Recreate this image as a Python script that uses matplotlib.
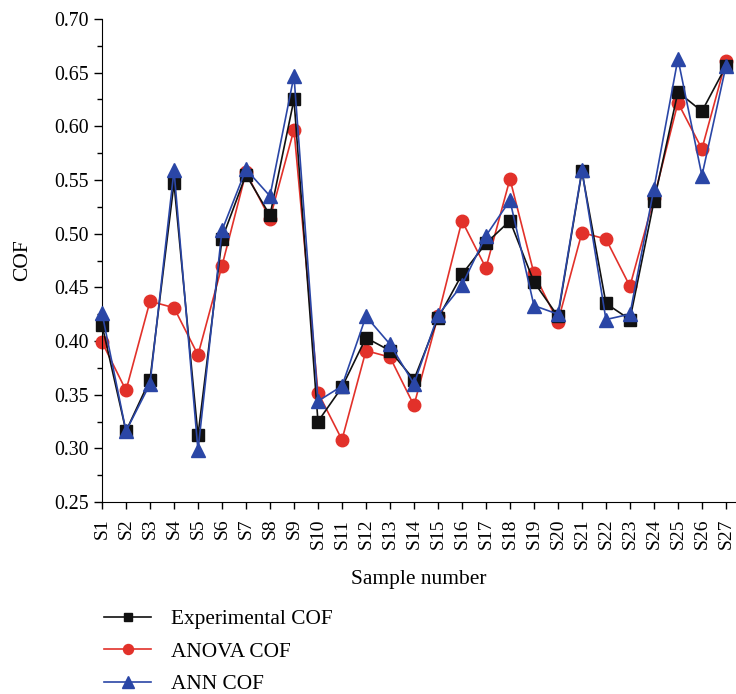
import numpy as np
import matplotlib.pyplot as plt
from matplotlib.ticker import MultipleLocator

plt.rcParams['font.family'] = ['Liberation Serif', 'DejaVu Serif']

# sample labels
samples = [f"S{i}" for i in range(1, 28)]

# COF values
exp_cof = [0.415, 0.316, 0.364, 0.547, 0.312, 0.495, 0.555, 0.517, 0.625,
           0.325, 0.357, 0.403, 0.391, 0.364, 0.421, 0.462, 0.491, 0.512,
           0.455, 0.423, 0.558, 0.435, 0.420, 0.530, 0.632, 0.614, 0.656]
anova_cof = [0.399, 0.354, 0.437, 0.431, 0.387, 0.470, 0.557, 0.514, 0.597,
             0.352, 0.308, 0.391, 0.385, 0.340, 0.423, 0.512, 0.468, 0.551,
             0.463, 0.418, 0.501, 0.495, 0.451, 0.533, 0.622, 0.579, 0.661]
ann_cof = [0.426, 0.316, 0.360, 0.559, 0.298, 0.503, 0.560, 0.535, 0.647,
           0.344, 0.358, 0.423, 0.397, 0.360, 0.424, 0.452, 0.498, 0.531,
           0.433, 0.425, 0.559, 0.420, 0.425, 0.542, 0.663, 0.554, 0.656]

x = np.arange(1, len(samples) + 1)

fig = plt.figure(figsize=(7.36, 6.94), dpi=100)
ax = fig.add_axes([102/736, 1 - 502/694, 1 - 102/736, (502 - 19)/694])

ax.plot(x, exp_cof, color='#111111', marker='s', markersize=8, lw=1.2,
        label='Experimental COF', zorder=3, clip_on=False)
ax.plot(x, anova_cof, color='#e2312a', marker='o', markersize=9, lw=1.2,
        label='ANOVA COF', zorder=2, clip_on=False)
ax.plot(x, ann_cof, color='#2a46a6', marker='^', markersize=10, lw=1.2,
        label='ANN COF', zorder=4, clip_on=False)

ax.set_xlim(1, 27.42)
ax.set_ylim(0.25, 0.70)
ax.set_xticks(x)
ax.set_xticklabels(samples, rotation=90, fontsize=14)
ax.yaxis.set_major_locator(MultipleLocator(0.05))
ax.yaxis.set_minor_locator(MultipleLocator(0.025))
ax.yaxis.set_major_formatter(plt.FormatStrFormatter('%.2f'))
ax.tick_params(axis='y', labelsize=14.3, length=6, width=1)
ax.tick_params(axis='y', which='minor', length=3.5, width=1)
ax.tick_params(axis='x', length=5, width=1, pad=7)

for s in ['top', 'right']:
    ax.spines[s].set_visible(False)

ax.set_xlabel('Sample number', fontsize=15.5, labelpad=15)
ax.set_ylabel('COF', fontsize=15.5, labelpad=16)

fig.legend(loc='upper left', bbox_to_anchor=(85/736, 1 - 590/694),
           frameon=False, fontsize=15.3, handlelength=2.2, labelspacing=0.6,
           handletextpad=0.95, markerscale=0.8)

fig.savefig('out.png', dpi=100)
